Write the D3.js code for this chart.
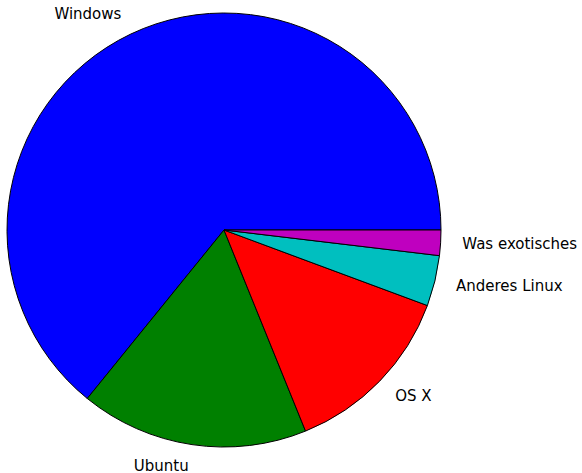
<!DOCTYPE html>
<html>
<head>
<meta charset="utf-8">
<script src="https://cdn.jsdelivr.net/npm/d3@7"></script>
<style>
html,body{margin:0;padding:0;background:#fff;}
svg{display:block;}
</style>
</head>
<body>
<svg id="chart" width="582" height="473"></svg>
<script>
const labels = ["Windows", "Ubuntu", "OS X", "Anderes Linux", "Was exotisches"];
const values = [34, 9, 7, 2, 1];
const colors = ["#0000ff", "#008000", "#ff0000", "#00bfbf", "#bf00bf"];

const W = 582, H = 473;
const cx = 224, cy = 230, R = 217;
const svg = d3.select("#chart");
const g = svg.append("g").attr("transform", `translate(${cx},${cy})`);

const pie = d3.pie().sort(null).value(d => d.v)
  .startAngle(Math.PI / 2).endAngle(Math.PI / 2 - 2 * Math.PI);
const data = labels.map((l, i) => ({ l, v: values[i], c: colors[i] }));
const arcs = pie(data);
const arc = d3.arc().innerRadius(0).outerRadius(R);

g.selectAll("path.w").data(arcs).enter().append("path")
  .attr("class", "w")
  .attr("d", arc)
  .attr("fill", d => d.data.c)
  .attr("stroke", "#000")
  .attr("stroke-width", 1)
  .attr("stroke-linejoin", "round");

g.selectAll("text.l").data(arcs).enter().append("text")
  .attr("class", "l")
  .each(function (d) {
    const m = (d.startAngle + d.endAngle) / 2;
    const x = 1.1 * R * Math.sin(m), y = -1.1 * R * Math.cos(m);
    d3.select(this).attr("x", x).attr("y", y)
      .attr("text-anchor", x < 0 ? "end" : "start");
  })
  .attr("dy", "0.3em")
  .attr("font-family", "DejaVu Sans")
  .attr("font-size", "15px")
  .attr("fill", "#000")
  .text(d => d.data.l);
</script>
</body>
</html>
